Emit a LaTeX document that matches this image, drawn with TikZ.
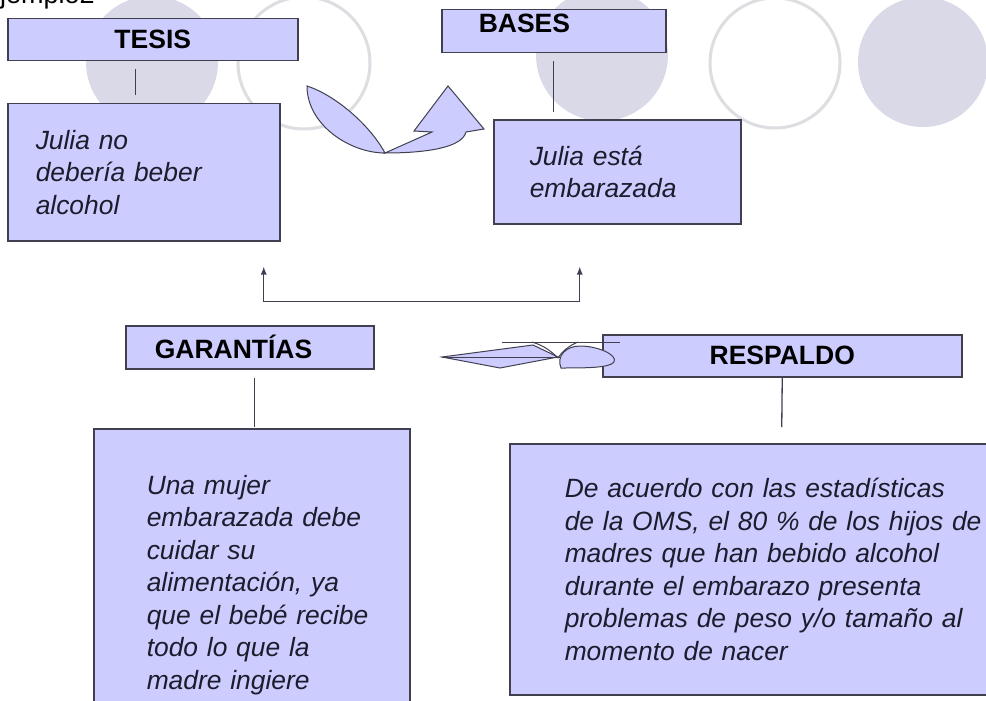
\documentclass[tikz,border=0pt]{standalone}
\usepackage{fontspec}
\setmainfont{Liberation Sans}
\usepackage{tikz}
\usetikzlibrary{positioning,arrows.meta}
\definecolor{lila}{RGB}{204,204,255}
\definecolor{borde}{RGB}{64,64,80}
\definecolor{texto}{RGB}{28,28,45}
\definecolor{gris}{RGB}{217,217,232}
\definecolor{aro}{RGB}{221,221,226}

\begin{document}
\begin{tikzpicture}[x=1pt,y=-1pt]
\tikzstyle{titulo}=[draw=borde,line width=1.5pt,fill=lila,anchor=north west,inner sep=0pt,font=\fontsize{26.5}{32}\selectfont\bfseries,text=black]
\tikzstyle{cuerpo}=[draw=borde,line width=1.5pt,fill=lila,anchor=north west,inner ysep=0pt,align=left,font=\fontsize{26.4}{32.5}\selectfont\itshape,text=texto]
\tikzstyle{linea}=[draw=borde,line width=1.3pt]
\tikzstyle{deco}=[draw=borde,line width=1pt,fill=lila]
    \useasboundingbox (0,0) rectangle (986,701);
    \clip (0,0) rectangle (986,701);
    % circulos del fondo
    \fill[gris] (152,62) circle (66pt);
    \draw[aro,line width=3pt,fill=white] (304,63) circle (66pt);
    \fill[gris] (602,55) circle (66pt);
    \draw[aro,line width=3pt,fill=white] (775,63) circle (65pt);
    \fill[gris] (923,62) circle (65pt);
    \node[anchor=base west,inner sep=0pt,font=\fontsize{27}{32}\selectfont] (ejemplo) at (-18,4) {Ejemplo2};
    % cajas
    \node[titulo,minimum width=290pt,minimum height=42pt] (tesis) at (7,18) {TESIS};
    \node[cuerpo,minimum width=272pt,minimum height=137pt,inner xsep=28pt,text width=216pt] (julia1) at (7,103) {Julia no\\debería beber\\alcohol};
    \node[titulo,minimum width=224pt,text width=150pt,align=left,inner xsep=37pt,inner ysep=2pt,text height=21pt,text depth=18pt] (bases) at (441,9) {BASES};
    \node[cuerpo,minimum width=247pt,minimum height=104pt,inner xsep=36pt,text width=175pt] (julia2) at (493,119) {Julia está\\embarazada};
    \node[titulo,minimum width=248pt,minimum height=43pt,text width=190pt,align=left,inner xsep=29pt] (garantias) at (125,325) {GARANTÍAS};
    \node[cuerpo,minimum width=316pt,minimum height=312pt,inner xsep=53pt,text width=210pt] (garbody) at (93,428) {Una mujer\\embarazada~debe\\cuidar su\\alimentación, ya\\que~el~bebé~recibe\\todo lo que la\\madre ingiere};
    \node[titulo,minimum width=359pt,minimum height=42pt] (respaldo) at (602,334) {RESPALDO};
    \node[cuerpo,minimum width=540pt,minimum height=251pt,inner xsep=55pt,text width=430pt] (resbody) at (509,443) {De acuerdo con las estadísticas\\de la OMS, el 80 \% de los hijos de\\madres que han bebido alcohol\\durante el embarazo presenta\\problemas de peso y/o tamaño al\\momento de nacer};
    % uniones
    \draw[linea] ([xshift=-17pt,yshift=-8pt]tesis.south) -- ([xshift=-8pt,yshift=8pt]julia1.north);
    \draw[linea] ([yshift=-8pt]bases.south) -- ([xshift=-63.5pt,yshift=7pt]julia2.north);
    \draw[linea] ([xshift=5pt,yshift=-8pt]garantias.south) -- ([xshift=3pt,yshift=1pt]garbody.north);
    \draw[linea] (respaldo.south) -- ([xshift=2pt,yshift=16pt]resbody.north);
    \draw[linea,{Latex[length=8pt,width=6pt]}-{Latex[length=8pt,width=6pt]}] ([xshift=120pt,yshift=-25pt]julia1.south) -- ++(0,35) -| ([xshift=-37.5pt,yshift=-42pt]julia2.south);
    % flecha curva
    \filldraw[deco] (385,153) .. controls (350,153) and (307,125) .. (307,86) .. controls (335,95) and (370,125) .. cycle;
    \filldraw[deco] (385,153) -- (432,132) -- (414,131) -- (448,86) -- (484,129) -- (466,132) .. controls (462,148) and (425,153) .. cycle;
    % garabato
    \filldraw[deco] (442,357) -- (533,345) -- (558,357) -- (500,368) -- cycle;
    \filldraw[deco] (561,368) .. controls (556,356) and (566,346) .. (580,346) .. controls (598,346) and (618,355) .. (614,362) .. controls (610,368) and (585,368) .. cycle;
    \draw[borde,line width=1pt] (502,342) -- (620,342);
    \draw[borde,line width=1pt] (532,342) .. controls (545,346) and (552,352) .. (558,358);
    \draw[borde,line width=1pt] (578,342) .. controls (568,346) and (562,352) .. (558,358);
    \draw[borde,line width=0.6pt] (442,357) -- (560,357);
\end{tikzpicture}
\end{document}
